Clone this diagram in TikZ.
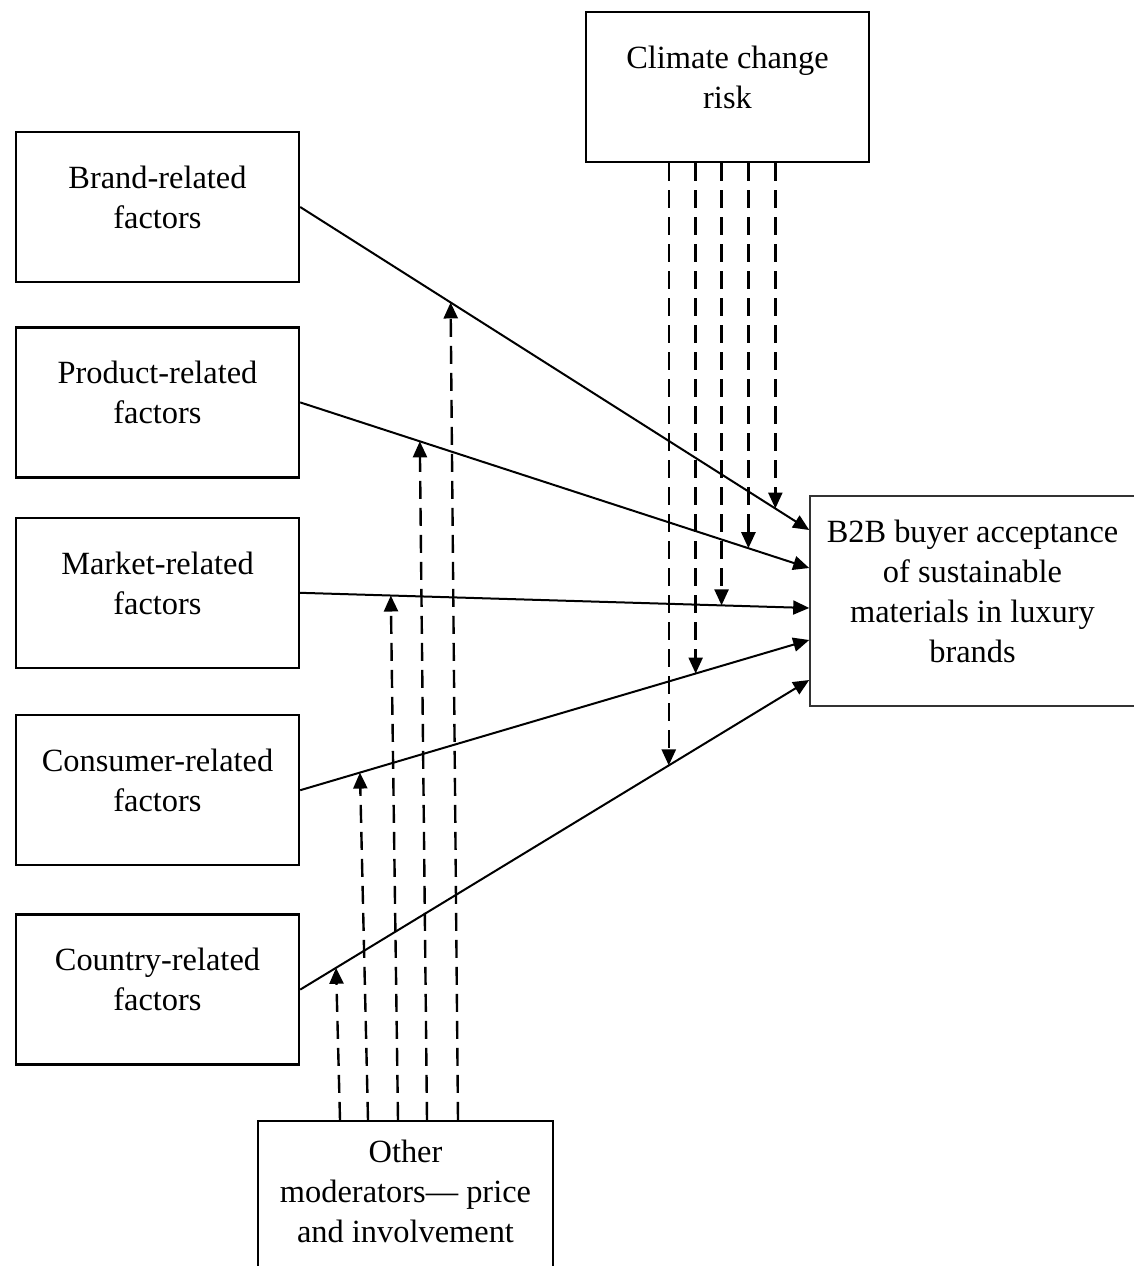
\documentclass[tikz,border=0pt]{standalone}
\usepackage{fontspec}
\setmainfont{Liberation Serif}
\usetikzlibrary{positioning, arrows.meta}

\begin{document}
\begin{tikzpicture}[
    x=0.5pt, y=-0.5pt,
    box/.style={draw, line width=1.2pt, align=center, inner sep=0pt,
                font=\fontsize{16.2}{20}\selectfont,
                minimum width=141.5pt, minimum height=75pt},
    arr/.style={-{Triangle[length=8pt, width=7pt]}, line width=1pt},
    mod/.style={-{Triangle[length=8pt, width=7pt]}, line width=1.2pt,
                dash pattern=on 9pt off 4.5pt}
  ]
  \useasboundingbox (0,0) rectangle (1134,1266);

  \node[box] (brand) at (157.5,207) {Brand-related\\factors\\[-10pt]\mbox{}};
  \node[box, below=21.5pt of brand]    (product)  {Product-related\\factors\\[-10pt]\mbox{}};
  \node[box, below=19pt of product]    (market)   {Market-related\\factors\\[-10pt]\mbox{}};
  \node[box, below=22.5pt of market]   (consumer) {Consumer-related\\factors\\[-10pt]\mbox{}};
  \node[box, below=23.5pt of consumer] (country)  {Country-related\\factors\\[-10pt]\mbox{}};
  \node[box] (climate) at (727.5,87) {Climate change\\risk\\[-10pt]\mbox{}};
  \node[box, draw=black!80, line width=0.8pt, minimum width=162.5pt, minimum height=105pt]
    (b2b) at (972.5,601) {B2B buyer acceptance\\of sustainable\\materials in luxury\\brands\\[-10pt]\mbox{}};
  \node[box, minimum width=147.5pt, minimum height=80pt]
    (other) at (405.5,1201) {Other\\moderators— price\\and involvement\\[-10pt]\mbox{}};

  \draw[arr] (brand.east)    -- coordinate[pos=0.2955] (brm) coordinate[pos=0.9335] (brc) ([yshift=35.5pt]b2b.west);
  \draw[arr] (product.east)  -- coordinate[pos=0.235]  (prm) coordinate[pos=0.8806] (prc) ([yshift=16.5pt]b2b.west);
  \draw[arr] (market.east)   -- coordinate[pos=0.178]  (mkm) coordinate[pos=0.8278] (mkc) ([yshift=-3.5pt]b2b.west);
  \draw[arr] (consumer.east) -- coordinate[pos=0.1174] (csm) coordinate[pos=0.7769] (csc) ([yshift=-19.5pt]b2b.west);
  \draw[arr] (country.east)  -- coordinate[pos=0.0705] (ctm) coordinate[pos=0.7241] (ctc) ([yshift=-39.5pt]b2b.west);

  % climate change risk acts on each path
  \draw[mod] (brc |- climate.south) -- (brc);
  \draw[mod] (prc |- climate.south) -- (prc);
  \draw[mod] (mkc |- climate.south) -- (mkc);
  \draw[mod] (csc |- climate.south) -- (csc);
  \draw[mod] (ctc |- climate.south) -- (ctc);

  % other moderators
  \draw[mod] ([xshift=-32.75pt]other.north) -- (ctm);
  \draw[mod] ([xshift=-18.75pt]other.north) -- (csm);
  \draw[mod] ([xshift=-3.75pt]other.north)  -- (mkm);
  \draw[mod] ([xshift=10.75pt]other.north)  -- (prm);
  \draw[mod] ([xshift=26.25pt]other.north)  -- (brm);
\end{tikzpicture}
\end{document}
